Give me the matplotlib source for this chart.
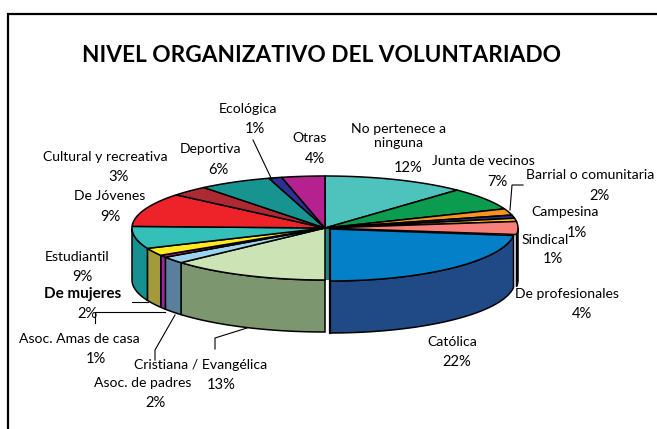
import numpy as np
import matplotlib
matplotlib.use("Agg")
import matplotlib.pyplot as plt
from matplotlib.patches import Polygon

plt.rcParams['font.family'] = ['Lato', 'DejaVu Sans']

categories = ["No pertenece a\nninguna", "Junta de vecinos", "Barrial o comunitaria", "Campesina", "Sindical",
              "De profesionales", "Católica", "Cristiana / Evangélica", "Asoc. de padres", "Asoc. Amas de casa",
              "De mujeres", "Estudiantil", "De Jóvenes", "Cultural y recreativa", "Deportiva", "Ecológica", "Otras"]
percent_labels = ["12%", "7%", "2%", "1%", "1%", "4%", "22%", "13%", "2%", "1%", "2%", "9%", "9%", "3%", "6%", "1%", "4%"]
shares = [12.0, 7.0, 2.0, 1.0, 1.0, 4.0, 23.0, 13.4, 2.1, 0.7, 2.4, 6.9, 10.5, 3.2, 6.1, 1.1, 3.6]
top_colors = ["#4EC3BE", "#0B9C50", "#F7941D", "#2A2F8F", "#FFC20E", "#F8807A", "#0480C8", "#CBE3B5", "#9AD4EE",
              "#B5218E", "#FFE91F", "#35BFB9", "#EE2329", "#AE2A33", "#17948F", "#2E3192", "#B5218E"]
side_colors = ["#3A9490", "#087A3E", "#C07416", "#20246E", "#C7970B", "#A84E4C", "#1F4A86", "#7C9670", "#5A7F9C",
               "#9A2A9A", "#A39A3C", "#169090", "#B81B20", "#861F27", "#11726E", "#23266F", "#8C1A6D"]

label_pos = [(399, 136), (483, 161), (590, 175), (565, 212), (545, 240), (567, 294), (452, 342), (201, 365),
             (143, 383), (79, 339), (83, 294), (77, 257), (110, 196), (105, 157), (211, 149), (248, 109), (310, 138)]
pct_pos = [(408, 168), (497, 182), (600, 196), (577, 233), (553, 259), (582, 314), (457, 362), (221, 385),
           (156, 403), (96, 359), (88, 314), (82, 277), (110, 217), (119, 177), (218, 170), (255, 129), (315, 159)]
leaders = [[(253, 140), (272, 180)], [(523, 185), (512, 185), (510, 210)], [(132, 302), (148, 302)],
           [(95, 323), (95, 312), (165, 312)], [(155, 360), (155, 350), (175, 315)],
           [(215, 349), (215, 338), (247, 328)]]

W, H = 657, 429
fig = plt.figure(figsize=(W / 100, H / 100), dpi=100)
ax = fig.add_axes([0, 0, 1, 1])
ax.set_xlim(0, W)
ax.set_ylim(H, 0)
ax.axis('off')

CX, CY, RX, RY, DEPTH = 325, 228, 193, 52, 52
# exploded slice: centre offset and radius reduction
EXPLODE = {6: (5, 1, 8)}

def pt(theta, ox, oy, rx=RX):
    return ox + rx * np.sin(theta), oy - RY * np.cos(theta)

edges = np.deg2rad(np.cumsum([0] + shares) / sum(shares) * 360)

# frame
ax.plot([8, 8, W], [H, 14, 14], color='black', lw=1.6, solid_joinstyle='miter')

# inner cut visible in the gap of the exploded slice
ax.add_patch(Polygon([(CX, CY), (CX + 5, CY + 1), (CX + 5, CY + RY), (CX, CY + RY)],
                     facecolor="#1B8580", edgecolor='none', zorder=1))

# walls
for i in range(len(shares)):
    a, b = max(edges[i], np.pi / 2), min(edges[i + 1], 3 * np.pi / 2)
    if a >= b:
        continue
    dx, dy, dr = EXPLODE.get(i, (0, 0, 0))
    t = np.linspace(a, b, 40)
    x, y = pt(t, CX + dx, CY + dy, RX - dr)
    verts = list(zip(x, y)) + list(zip(x[::-1], y[::-1] + DEPTH))
    ax.add_patch(Polygon(verts, closed=True, facecolor=side_colors[i], edgecolor='black', lw=1.1, zorder=2 + dr))

# top faces
for i in range(len(shares)):
    dx, dy, dr = EXPLODE.get(i, (0, 0, 0))
    t = np.linspace(edges[i], edges[i + 1], 40)
    x, y = pt(t, CX + dx, CY + dy, RX - dr)
    verts = [(CX + dx, CY + dy)] + list(zip(x, y))
    ax.add_patch(Polygon(verts, closed=True, facecolor=top_colors[i], edgecolor='black', lw=1.1,
                         joinstyle='round', zorder=12))

# thick left edge of the exploded slice
ax.plot([CX + 5, CX + 5, CX + 5], [CY + 1, CY + RY + 1, CY + RY + DEPTH + 1], color='black', lw=1.6, zorder=13)

for pts in leaders:
    xs, ys = zip(*pts)
    ax.plot(xs, ys, color='black', lw=0.8, zorder=14)

ax.text(322, 56, "NIVEL ORGANIZATIVO DEL VOLUNTARIADO", fontsize=16.3, fontweight='bold',
        ha='center', va='center', color='black')

for i, (name, pct) in enumerate(zip(categories, percent_labels)):
    bold = name == "De mujeres"
    ax.text(*label_pos[i], name, fontsize=11 if bold else 10.1, ha='center', va='center', color='black',
            linespacing=1.2, fontweight='bold' if bold else 'normal', zorder=15)
    ax.text(*pct_pos[i], pct, fontsize=10.6, ha='center', va='center', color='black', zorder=15)

fig.savefig("out.png", dpi=100)
